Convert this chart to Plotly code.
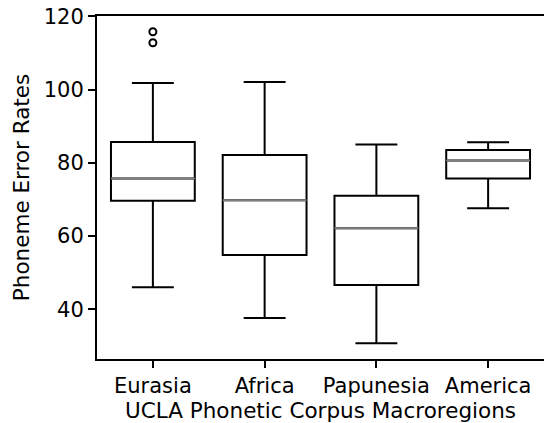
import plotly.graph_objects as go

categories = ["Eurasia", "Africa", "Papunesia", "America"]
lower_whisker = [46.0, 37.6, 30.7, 67.6]
q1 = [69.6, 54.8, 46.6, 75.7]
median = [75.7, 69.8, 62.1, 80.6]
q3 = [85.7, 82.1, 71.0, 83.5]
upper_whisker = [101.8, 102.1, 85.0, 85.6]
outlier_cat = ["Eurasia", "Eurasia"]
outlier_val = [112.8, 115.8]

positions = list(range(1, len(categories) + 1))
box_w = 0.75
FONT = "DejaVu Sans"

fig = go.Figure()
fig.add_trace(go.Box(
    x=positions, q1=q1, median=median, q3=q3,
    lowerfence=lower_whisker, upperfence=upper_whisker,
    width=box_w, whiskerwidth=0.5,
    fillcolor="white", line=dict(color="black", width=2),
    boxpoints=False, showlegend=False, hoverinfo="skip",
))
# gray median lines
for p, m in zip(positions, median):
    fig.add_trace(go.Scatter(
        x=[p - box_w / 2, p + box_w / 2], y=[m, m], mode="lines",
        line=dict(color="#808080", width=2), showlegend=False, hoverinfo="skip",
    ))
fig.add_trace(go.Scatter(
    x=[positions[categories.index(c)] for c in outlier_cat], y=outlier_val,
    mode="markers",
    marker=dict(symbol="circle-open", size=7, color="black", line=dict(width=2)),
    showlegend=False, hoverinfo="skip",
))

fig.update_layout(
    width=544, height=423,
    margin=dict(l=97, r=0, t=16, b=64),
    paper_bgcolor="white", plot_bgcolor="white",
    font=dict(family=FONT, size=21, color="black"),
    xaxis=dict(
        range=[0.5, 4.5], tickvals=positions, ticktext=categories,
        showline=True, linecolor="black", linewidth=2, mirror=True,
        ticks="outside", ticklen=7, tickwidth=2, tickcolor="black",
        showgrid=False, zeroline=False, automargin=False,
        title=dict(text="UCLA Phonetic Corpus Macroregions", font=dict(size=21.5), standoff=7),
        tickfont=dict(size=21),
    ),
    yaxis=dict(
        range=[26.4, 120.1], tickvals=[40, 60, 80, 100, 120],
        showline=True, linecolor="black", linewidth=2,
        ticks="outside", ticklen=7, tickwidth=2, tickcolor="black",
        showgrid=False, zeroline=False, automargin=False,
        title=dict(text="Phoneme Error Rates", font=dict(size=21.5), standoff=8),
        tickfont=dict(size=21),
    ),
)
fig.write_html(
    "out.html",
    config={"displayModeBar": False, "staticPlot": True},
    post_script="document.body.style.margin='0';document.body.style.overflow='hidden';",
)
